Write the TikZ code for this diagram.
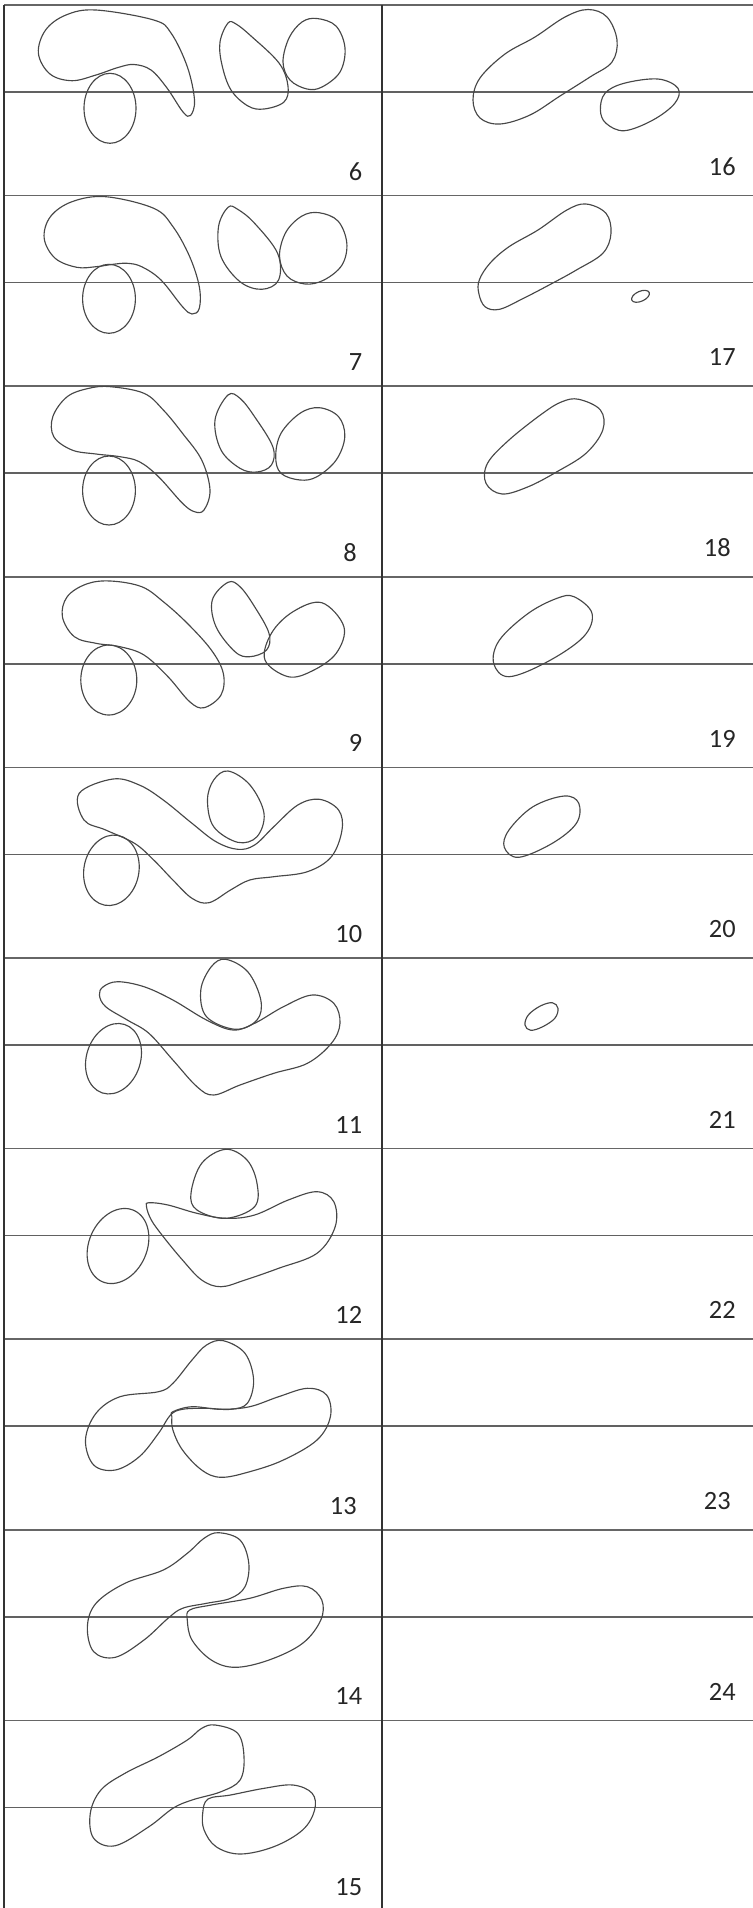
\documentclass[tikz,border=0pt]{standalone}
\usepackage{fontspec}
\setmainfont{Carlito}
\begin{document}
\begin{tikzpicture}[x=0.02cm,y=-0.02cm,
  gridline/.style={draw=black!60, line width=1pt},
  midline/.style={draw=black!62, line width=1pt},
  vline/.style={draw=black!80, line width=1pt},
  blob/.style={draw=black!72, line width=0.65pt},
  lab/.style={anchor=base east, inner sep=0pt, font=\fontsize{15}{18}\selectfont, text=black!85}]
\useasboundingbox (0,0) rectangle (753,1908);
% ---- grid ----
\foreach \k in {0,...,9} {
  \pgfmathsetmacro{\T}{5+190.6*\k}
  \draw[gridline] (4,\T) -- (753,\T);
}
\foreach \k in {0,...,8} {
  \pgfmathsetmacro{\M}{92+190.6*\k}
  \draw[midline] (4,\M) -- (753,\M);
}
\draw[midline] (4,1807.4) -- (382,1807.4);
\draw[vline] (4,5) -- (4,1908);
\draw[vline] (382,5) -- (382,1908);
% ---- labels ----
\node[lab] (l6)  at (362.5,180) {6};
\node[lab] (l7)  at (362.5,370.6) {7};
\node[lab] (l8)  at (357,561.2) {8};
\node[lab] (l9)  at (362.5,751.8) {9};
\node[lab] (l10) at (362.5,942.4) {10};
\node[lab] (l11) at (362.5,1133) {11};
\node[lab] (l12) at (362.5,1323.6) {12};
\node[lab] (l13) at (357,1514.2) {13};
\node[lab] (l14) at (362.5,1704.8) {14};
\node[lab] (l15) at (362.5,1895.4) {15};
\node[lab] (l16) at (736,175.3) {16};
\node[lab] (l17) at (736,365.9) {17};
\node[lab] (l18) at (731,556.5) {18};
\node[lab] (l19) at (736,747.1) {19};
\node[lab] (l20) at (736,937.7) {20};
\node[lab] (l21) at (736,1128.3) {21};
\node[lab] (l22) at (736,1318.9) {22};
\node[lab] (l23) at (731,1509.5) {23};
\node[lab] (l24) at (736,1700.1) {24};
% ---- panel 6 ----
\draw[blob] plot[smooth cycle, tension=0.6] coordinates {(96,10) (153.7,20) (171,33) (187.3,66.7) (194.5,100) (190.5,115.5) (183,112) (167,88) (151,70) (134,64.5) (118,67.5) (96,75) (72,80.7) (50,74) (38.4,53.3) (45.6,30) (66,15)};
\draw[blob] (110,108.3) ellipse [x radius=26, y radius=35];
\draw[blob] plot[smooth cycle, tension=0.6] coordinates {(228,23) (220,42) (222,65) (231,90) (248,106) (264,109) (284,102) (288,86) (279,63) (251,36) (236,24)};
\draw[blob] plot[smooth cycle, tension=0.6] coordinates {(317,18.5) (336,26) (345,48) (340,72) (322,87) (307,89) (290,80) (283,62) (289,38) (302,22)};
% ---- panel 7 ----
\draw[blob] plot[smooth cycle, tension=0.6] coordinates {(105.7,196.7) (153.7,208.3) (173,226.7) (189.7,256.7) (199.3,286.7) (199.3,308.3) (192,314) (182.5,306.7) (161,280) (141.7,266.7) (127.3,263.3) (113,264.3) (96,266.7) (76.8,267.3) (55.2,258.3) (44.2,238.3) (50.4,216.7) (72,201.7)};
\draw[blob] (109,298.8) ellipse [x radius=26.4, y radius=34.5];
\draw[blob] plot[smooth cycle, tension=0.6] coordinates {(228,207.3) (218.5,226.7) (221,256.7) (240,281.7) (261.8,289.3) (278.6,280) (277.6,253.3) (254.6,223.3) (237.7,209.3)};
\draw[blob] plot[smooth cycle, tension=0.6] coordinates {(319,212.7) (338,221) (346.8,243) (342,265) (324,280) (305,284) (287,276) (279.5,256) (286,232) (302,216)};
% ---- panel 8 ----
\draw[blob] plot[smooth cycle, tension=0.6] coordinates {(110.5,386.7) (144,393.3) (163.3,410) (182.5,433.3) (201.7,460) (210,490) (204,510) (194.5,511.7) (182.5,503.3) (158.5,476.7) (139.3,461.7) (120,456.7) (96,454) (72,450) (53.8,436.7) (52.8,416.7) (67.2,396.7) (88.9,388.3)};
\draw[blob] (109,490.5) ellipse [x radius=26.4, y radius=34.5];
\draw[blob] plot[smooth cycle, tension=0.6] coordinates {(228,395) (215,420) (221,450) (240,468.3) (257,472) (271.4,465) (272.8,446.7) (254.6,416.7) (240,398.3)};
\draw[blob] plot[smooth cycle, tension=0.6] coordinates {(275.7,456.7) (281,433.3) (300,413.3) (319.4,407.7) (338.6,416.7) (344.8,436.7) (336.2,460) (317,476.7) (300,480) (281,473.3)};
% ---- panel 9 ----
\draw[blob] plot[smooth cycle, tension=0.6] coordinates {(110.5,581) (141.7,586.7) (163.3,601.7) (187.3,623.3) (211.3,650) (223.3,673.3) (221,695) (204,707.7) (189.7,701.7) (168,676.7) (144,655) (120,646.7) (96,643.3) (74.4,636.7) (62.4,616.7) (67.2,596.7) (86.5,584)};
\draw[blob] (108.8,680) ellipse [x radius=28, y radius=35];
\draw[blob] plot[smooth cycle, tension=0.6] coordinates {(228,582.3) (212.3,600) (216,626.7) (235,651.7) (249.7,656.7) (266.6,650) (269,633.3) (254.6,606.7) (240,586.7)};
\draw[blob] plot[smooth cycle, tension=0.6] coordinates {(321.8,602.7) (343.9,626.7) (336.2,653.3) (312,671) (288.2,676.7) (265,660) (271.4,633.3) (293,611.7)};
% ---- panel 10 ----
\draw[blob] plot[smooth cycle, tension=0.6] coordinates {(79.2,793.3) (112.9,779) (139.3,785) (163.3,800) (192,823.3) (216,841.7) (237.7,849.3) (254.6,845) (273.8,826.7) (297.8,805) (319.4,799.3) (338.6,810) (342,830) (331.4,856.7) (307.4,871.7) (273.8,876.7) (249.7,880) (230.5,890) (209,902.7) (192,898.3) (172.9,880) (153.7,860) (134.5,843.3) (105.7,830) (84,820)};
\draw[blob] plot[smooth cycle, tension=0.6] coordinates {(228,771) (250,785) (264,813.3) (257,836.7) (237.7,842.3) (213.7,826.7) (207.5,800) (213.7,780)};
\draw[blob, rotate around={-11:(111.4,870.3)}] (111.4,870.3) ellipse [x radius=27.5, y radius=35.5];
% ---- panel 11 ----
\draw[blob] plot[smooth cycle, tension=0.6] coordinates {(103.3,986.7) (117.7,981.7) (144,986.7) (172.9,1000) (206.5,1020) (233,1030) (254.6,1023.3) (283.4,1006.7) (312.2,995) (333.8,1003.3) (340,1023.3) (331.4,1043.3) (307.4,1063.3) (273.8,1073.3) (240,1085) (213.7,1095) (197,1086.7) (172.9,1060) (148.9,1033.3) (127.3,1020) (105.7,1006.7) (99.4,995)};
\draw[blob] plot[smooth cycle, tension=0.6] coordinates {(225.7,959.3) (248,972) (260.8,1000) (257,1020) (235.3,1029.3) (206.5,1016.7) (200.8,990) (211.3,966.7)};
\draw[blob, rotate around={-18:(113.5,1058.7)}] (113.5,1058.7) ellipse [x radius=27, y radius=36];
% ---- panel 12 ----
\draw[blob] plot[smooth cycle, tension=0.6] coordinates {(225.7,1149.3) (247,1160) (257,1183.3) (254.6,1206.7) (225.7,1218.3) (197,1210) (191,1193.3) (201.7,1163.3)};
\draw[blob] plot[smooth cycle, tension=0.6] coordinates {(149,1202.7) (168,1205) (197,1213.3) (225.7,1218.3) (254.6,1215) (288.2,1200) (317,1191.7) (333.8,1201.7) (335.2,1226.7) (317,1253.3) (278.6,1268.3) (245,1280) (221,1286.7) (201.7,1280) (182.5,1260) (163.3,1236.7) (151.3,1220) (146.5,1206.7)};
\draw[blob, rotate around={-24:(118,1246)}] (118,1246) ellipse [x radius=29, y radius=39];
% ---- panel 13 ----
\draw[blob] plot[smooth cycle, tension=0.6] coordinates {(223.3,1340.7) (245,1353.3) (253.6,1380) (247.3,1403.3) (230.5,1409.3) (206.5,1408.3) (182.5,1409.3) (170.5,1415) (158.5,1433.3) (139.3,1456.7) (115.3,1470) (93.7,1465) (85.5,1440) (96,1413.3) (120,1396.7) (158.5,1391.7) (172.9,1383.3) (192,1360) (206.5,1345)};
\draw[blob] plot[smooth cycle, tension=0.6] coordinates {(172.9,1411.7) (192,1406.7) (221,1409.3) (249.7,1406.7) (278.6,1396.7) (307.4,1388.3) (326.6,1395) (330.4,1416.7) (317,1440) (283.4,1460) (249.7,1471.7) (221,1477.3) (201.7,1470) (182.5,1450) (172.9,1430) (171.9,1416.7)};
% ---- panel 14 ----
\draw[blob] plot[smooth cycle, tension=0.6] coordinates {(218.5,1532.7) (240,1540) (248.8,1563.3) (245,1586.7) (230.5,1598.3) (206.5,1603.3) (182.5,1608.3) (168,1618.3) (144,1640) (115.3,1657.3) (93.7,1651.7) (87.4,1626.7) (96,1603.3) (124.9,1583.3) (163.3,1570) (187.3,1553.3) (204,1538.3)};
\draw[blob] plot[smooth cycle, tension=0.6] coordinates {(189.7,1610) (211.3,1605) (249.7,1598.3) (283.4,1588.3) (307.4,1586.7) (321.8,1600) (320.8,1620) (302.6,1643.3) (269,1660) (235.3,1667.3) (211.3,1660) (192,1640) (187.3,1620)};
% ---- panel 15 ----
\draw[blob] plot[smooth cycle, tension=0.6] coordinates {(215.2,1725) (237.7,1733.3) (244,1756.7) (240.1,1780) (221,1791.7) (192,1800) (172.9,1808.3) (148.9,1826.7) (115.3,1845.7) (93.7,1838.3) (90.3,1813.3) (100.9,1790) (124.9,1773.3) (158.5,1756.7) (187.3,1740) (201.7,1728.3)};
\draw[blob] plot[smooth cycle, tension=0.6] coordinates {(208,1799) (230.5,1795) (264.1,1788.3) (293,1785) (312.2,1793.3) (314.6,1810) (302.6,1830) (273.8,1846.7) (240.1,1854) (216.1,1846.7) (204.1,1830) (202.7,1813.3)};
% ---- panel 16 ----
\draw[blob] plot[smooth cycle, tension=0.6] coordinates {(588,9.5) (607,17) (617,40) (612,62) (590,77) (560,96) (530,115) (500,124) (480,118) (473,100) (480,78) (505,54) (535,37) (565,17)};
\draw[blob] plot[smooth cycle, tension=0.6] coordinates {(600.4,110) (605,93.3) (624,83.3) (658,79) (678,88.3) (674.8,103.3) (653,120) (624.4,130.7) (606,123.3)};
% ---- panel 17 ----
\draw[blob] plot[smooth cycle, tension=0.6] coordinates {(586,204) (606,213.3) (611,233.3) (602.8,253.3) (576.4,270) (552.3,283.3) (523.5,298.3) (499.5,309.3) (485,306.7) (478.8,293.3) (479.3,280) (489.9,263.3) (509,246.7) (538,230) (566.9,210)};
\draw[blob, rotate around={24:(640.5,296.3)}] (640.5,296.3) ellipse [x radius=9.5, y radius=5];
% ---- panel 18 ----
\draw[blob] plot[smooth cycle, tension=0.6] coordinates {(578.8,399.3) (600.4,410) (602.8,430) (586,453.3) (557,471.7) (528.3,486.7) (502,494) (486,483.3) (487.5,463.3) (509,440) (542.7,413.3) (562,401.7)};
% ---- panel 19 ----
\draw[blob] plot[smooth cycle, tension=0.6] coordinates {(574,596.7) (592,613.3) (583.6,636.7) (547.5,661.7) (509,676.7) (493.7,663.3) (499.5,640) (528.3,613.3) (557,598.3)};
% ---- panel 20 ----
\draw[blob] plot[smooth cycle, tension=0.6] coordinates {(564.3,796) (578.8,803.3) (576.4,823.3) (552.3,843.3) (518.7,857.3) (504.3,847.3) (509,830) (533,806.7)};
% ---- panel 21 ----
\draw[blob] plot[smooth cycle, tension=0.6] coordinates {(552.3,1002.7) (558,1008.3) (554.8,1018.3) (542.7,1026.7) (530.7,1030.3) (525,1025) (528.3,1015) (540.3,1006)};
\end{tikzpicture}
\end{document}
